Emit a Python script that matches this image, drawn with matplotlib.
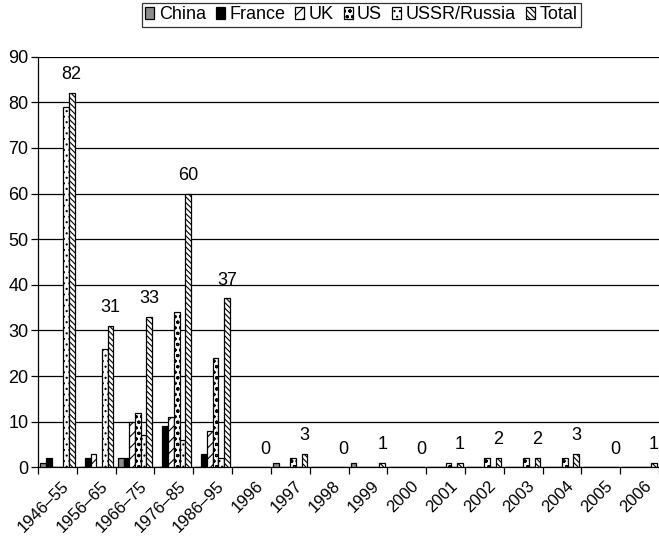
import numpy as np
import matplotlib
matplotlib.use('Agg')
import matplotlib.pyplot as plt
from matplotlib.transforms import offset_copy

plt.rcParams['font.family'] = ['Liberation Sans', 'DejaVu Sans']
plt.rcParams['hatch.linewidth'] = 0.8

categories = ['1946–55', '1956–65', '1966–75', '1976–85', '1986–95', '1996',
              '1997', '1998', '1999', '2000', '2001', '2002', '2003', '2004',
              '2005', '2006']
china = [1, 0, 2, 0, 0, 0, 1, 0, 1, 0, 0, 0, 0, 0, 0, 0]
france = [2, 2, 2, 9, 3, 0, 0, 0, 0, 0, 0, 0, 0, 0, 0, 0]
uk = [0, 3, 10, 11, 8, 0, 0, 0, 0, 0, 0, 0, 0, 0, 0, 0]
us = [0, 0, 12, 34, 24, 0, 2, 0, 0, 0, 1, 2, 2, 2, 0, 0]
ussr = [79, 26, 7, 6, 2, 0, 0, 0, 0, 0, 0, 0, 0, 0, 0, 0]
total = [82, 31, 33, 60, 37, 0, 3, 0, 1, 0, 1, 2, 2, 3, 0, 1]

fig = plt.figure(figsize=(6.59, 5.36), dpi=100)
ax = fig.add_axes([38/659, 1-467.3/536, 1-38/659, (467.3-56.7)/536])

x = np.arange(len(categories))
w = 0.147
gap = 1 - 6*w
def pos(i):
    return x - 0.5 + gap/2 + w*(i + 0.5)

kw = dict(width=w, linewidth=0.9, edgecolor='black', zorder=3)
h_china = ax.bar(pos(0), china, facecolor='#8c8c8c', **kw)
h_france = ax.bar(pos(1), france, facecolor='black', **kw)
h_uk = ax.bar(pos(2), uk, facecolor='white', hatch='///', **kw)
h_us = ax.bar(pos(3), us, facecolor='white', hatch='ooo', **kw)
h_ussr = ax.bar(pos(4), ussr, facecolor='white', hatch='...', **kw)
h_total = ax.bar(pos(5), total, facecolor='white', hatch='\\\\\\\\\\\\', **kw)

# value labels over the Total bars
for xi, v in zip(pos(5), total):
    ax.annotate(str(v), (xi, v), xytext=(0, 7), textcoords='offset points',
                ha='center', va='bottom', fontsize=13)

ax.set_xlim(-0.5, 15.5)
ax.set_ylim(0, 90)
ax.set_yticks(range(0, 91, 10))
ax.yaxis.grid(True, color='black', linewidth=0.9, zorder=0)
ax.set_axisbelow(True)
ax.tick_params(axis='y', labelsize=13, length=5, width=0.9, direction='out', pad=2)

ax.set_xticks(np.arange(-0.5, 16, 1))
ax.set_xticklabels([])
ax.tick_params(axis='x', which='major', length=5, width=0.9, direction='out')
ax.set_xticks(x, minor=True)
ax.set_xticklabels(categories, minor=True, rotation=45, ha='right',
                   rotation_mode='anchor', fontsize=12)
ax.tick_params(axis='x', which='minor', length=0, pad=8)
for lab in ax.get_xticklabels(minor=True):
    lab.set_transform(offset_copy(lab.get_transform(), fig=fig, x=4, y=0, units='dots'))

for s in ['top', 'right']:
    ax.spines[s].set_visible(False)
ax.spines['left'].set_linewidth(0.9)
ax.spines['bottom'].set_linewidth(0.9)

handles = [h_china, h_france, h_uk, h_us, h_ussr, h_total]
labels = ['China', 'France', 'UK', 'US', 'USSR/Russia', 'Total']
leg = fig.legend(handles, labels, loc='upper center', bbox_to_anchor=(0.548, 0.998),
                 ncol=6, fontsize=13, frameon=True, fancybox=False,
                 edgecolor='black', handlelength=0.5, handleheight=0.7,
                 handletextpad=0.25, columnspacing=0.55, borderpad=0.2,
                 borderaxespad=0.1)
leg.get_frame().set_linewidth(0.9)

fig.savefig('out.png', dpi=100)
